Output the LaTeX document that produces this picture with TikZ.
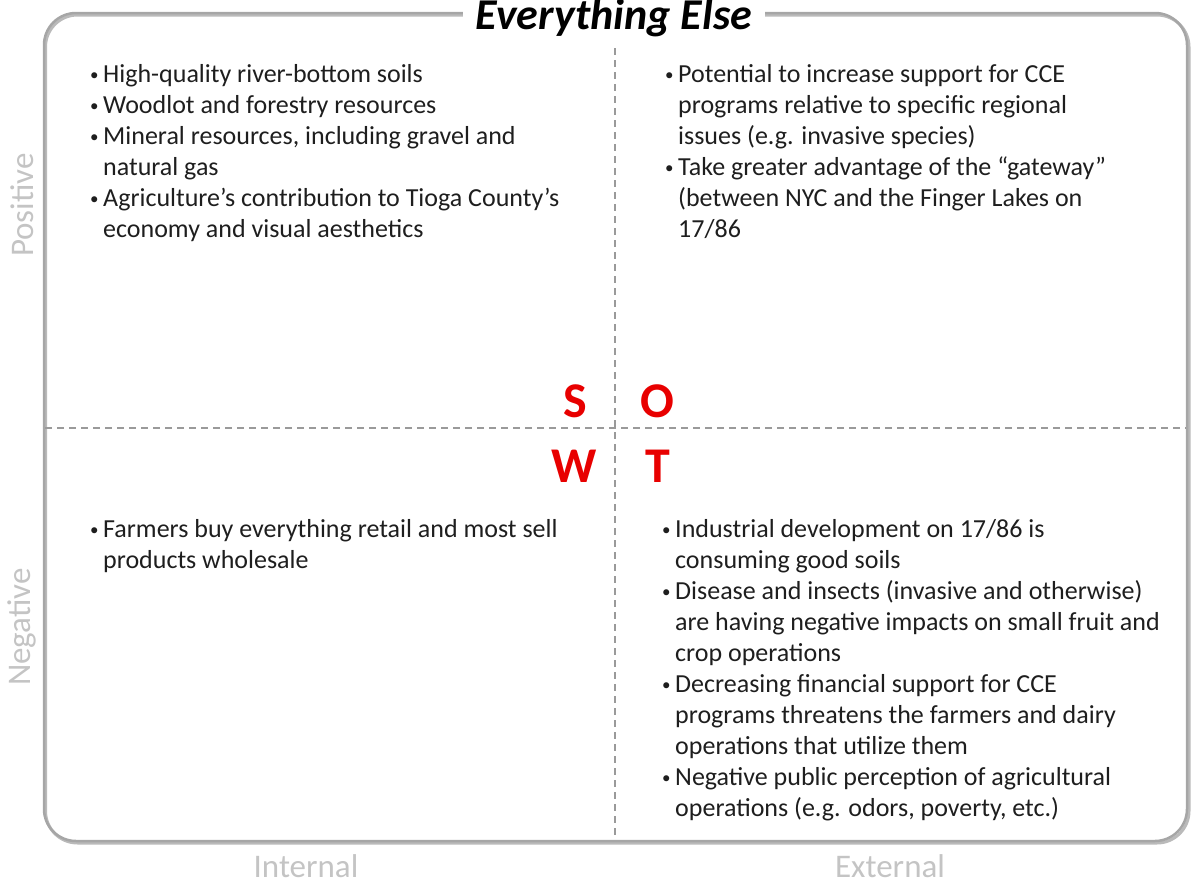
\documentclass[tikz,border=0pt]{standalone}
\usepackage{fontspec}
\setmainfont{Carlito}
\definecolor{bordergray}{HTML}{A6A6A6}
\definecolor{shadowgray}{HTML}{8C8C8C}
\definecolor{dashgray}{HTML}{9A9A9A}
\definecolor{labelgray}{HTML}{C4C4C4}
\definecolor{bodytext}{HTML}{1E1E1E}
\definecolor{swotred}{HTML}{E80000}
\newcommand{\bul}{\makebox[14bp][l]{\hspace{1bp}{\fontsize{17bp}{17bp}\selectfont\raisebox{2bp}{•}}}}
\begin{document}
\begin{tikzpicture}[x=1bp,y=-1bp,
  txt/.style={anchor=base west,inner sep=0pt,text=bodytext,font=\fontsize{26bp}{31bp}\selectfont},
  swot/.style={anchor=base,inner sep=0pt,text=swotred,font=\fontsize{50bp}{56bp}\selectfont\bfseries},
  side/.style={inner sep=0pt,text=labelgray,font=\fontsize{33bp}{38bp}\selectfont},
  divider/.style={dashgray,line width=1.3bp,dash pattern=on 7bp off 5bp}]
\useasboundingbox (0,0) rectangle (1192,888);
% frame with shadow
\draw[shadowgray!60,line width=3bp,rounded corners=32bp] (45.5,15) rectangle (1189,843);
\draw[bordergray,line width=2.5bp,rounded corners=32bp] (44,13) rectangle (1187,841);
% dividers
\coordinate (vt) at (615,48);
\coordinate (vb) at (615,840);
\coordinate (hl) at (45,428);
\coordinate (hr) at (1186,428);
\draw[divider] (vt) -- (vb);
\draw[divider] (hl) -- (hr);
% title
\node[anchor=base,fill=white,inner xsep=13bp,inner ysep=4bp,font=\fontsize{44bp}{50bp}\selectfont\bfseries\itshape] (title) at (614,29) {Everything Else};
% SWOT letters
\node[swot] (S) at (575,417) {S};
\node[swot] (O) at (657,417) {O};
\node[swot] (W) at (574,482) {W};
\node[swot] (T) at (658,482) {T};
% side labels
\node[side,rotate=90] (pos) at (22,205) {Positive};
\node[side,rotate=90] (neg) at (22,627) {Negative};
\node[side] (int) at (306,866) {Internal};
\node[side] (ext) at (890,866) {External};
% Strengths
\node[txt] (s1) at (89,82) {\bul High-quality river-bottom soils};
\node[txt] (s2) at (89,113) {\bul Woodlot and forestry resources};
\node[txt] (s3) at (89,144) {\bul Mineral resources, including gravel and};
\node[txt] (s3b) at (103,175) {natural gas};
\node[txt] (s4) at (89,206) {\bul Agriculture’s contribution to Tioga County’s};
\node[txt] (s4b) at (103,237) {economy and visual aesthetics};
% Opportunities
\node[txt] (o1) at (664,82) {\bul Potential to increase support for CCE};
\node[txt] (o1b) at (678,113) {programs relative to specific regional};
\node[txt] (o1c) at (678,144) {issues (e.g. invasive species)};
\node[txt] (o2) at (664,175) {\bul Take greater advantage of the “gateway”};
\node[txt] (o2b) at (678,206) {(between NYC and the Finger Lakes on};
\node[txt] (o2c) at (678,237) {17/86};
% Weaknesses
\node[txt] (w1) at (89,537) {\bul Farmers buy everything retail and most sell};
\node[txt] (w1b) at (103,568) {products wholesale};
% Threats
\node[txt] (t1) at (661,537) {\bul Industrial development on 17/86 is};
\node[txt] (t1b) at (675,568) {consuming good soils};
\node[txt] (t2) at (661,599) {\bul Disease and insects (invasive and otherwise)};
\node[txt] (t2b) at (675,630) {are having negative impacts on small fruit and};
\node[txt] (t2c) at (675,661) {crop operations};
\node[txt] (t3) at (661,692) {\bul Decreasing financial support for CCE};
\node[txt] (t3b) at (675,723) {programs threatens the farmers and dairy};
\node[txt] (t3c) at (675,754) {operations that utilize them};
\node[txt] (t4) at (661,785) {\bul Negative public perception of agricultural};
\node[txt] (t4b) at (675,816) {operations (e.g. odors, poverty, etc.)};
\end{tikzpicture}
\end{document}
